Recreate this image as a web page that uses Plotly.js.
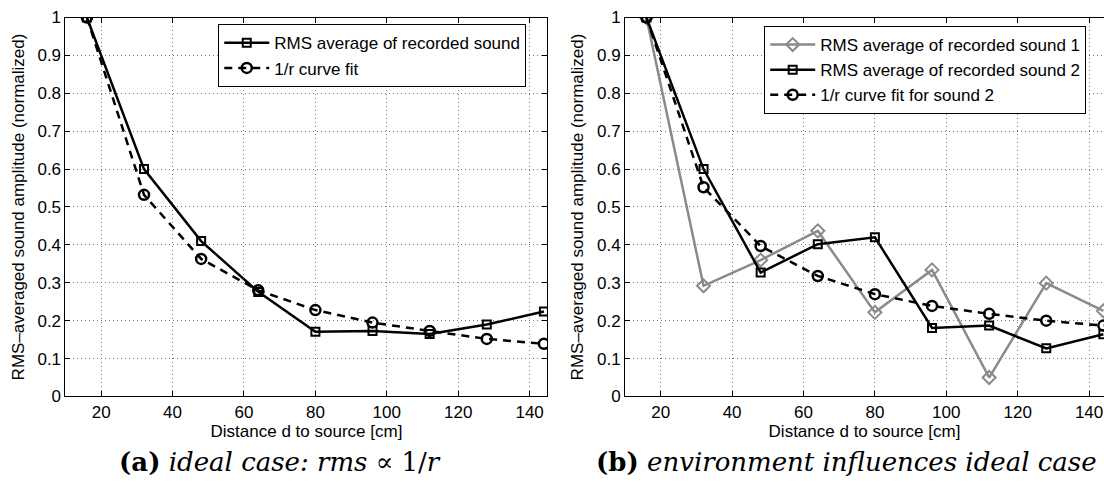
<!DOCTYPE html>
<html><head><meta charset="utf-8">
<script src="https://cdn.plot.ly/plotly-3.0.1.min.js"></script>
<style>html,body{margin:0;padding:0;overflow:hidden;background:#fff}</style>
</head><body><div id="chart" style="width:1104px;height:489px"></div>
<script>
// Distance to source [cm]
const distance = [16, 32, 48, 64, 80, 96, 112, 128, 144];
// (a) ideal case
const idealRms = [1.0, 0.600, 0.410, 0.276, 0.171, 0.173, 0.165, 0.190, 0.224];
const idealFit = [1.0, 0.532, 0.363, 0.280, 0.228, 0.195, 0.173, 0.152, 0.139];
// (b) environment influences
const envSound1 = [1.0, 0.292, 0.360, 0.437, 0.222, 0.334, 0.050, 0.299, 0.226];
const envSound2 = [1.0, 0.600, 0.327, 0.402, 0.420, 0.181, 0.187, 0.127, 0.164];
const envFit2   = [1.0, 0.552, 0.397, 0.318, 0.270, 0.239, 0.218, 0.200, 0.187];
// ticks
const xTicks = [20, 40, 60, 80, 100, 120, 140];
const yTicks = [0, 0.1, 0.2, 0.3, 0.4, 0.5, 0.6, 0.7, 0.8, 0.9, 1];
const yTickText = ['0', '0.1', '0.2', '0.3', '0.4', '0.5', '0.6', '0.7', '0.8', '0.9', '1'];

const SANS = 'Liberation Sans, Arial, Helvetica, sans-serif';
const SERIF = 'DejaVu Serif, Liberation Serif, serif';
const GRAY = '#8a8a8a';

function solid(x, y, name, color, symbol, size, xa, ya, lg) {
  return {x, y, name, type: 'scatter', mode: 'lines+markers', xaxis: xa, yaxis: ya, legend: lg,
    line: {color, width: 2.5},
    marker: {symbol, size, color, line: {color, width: 2}},
    cliponaxis: true, hoverinfo: 'skip'};
}
function dashed(x, y, name, xa, ya, lg) {
  return {x, y, name, type: 'scatter', mode: 'lines+markers', xaxis: xa, yaxis: ya, legend: lg,
    line: {color: '#000', width: 2.5, dash: '8px,6px'},
    marker: {symbol: 'circle-open', size: 10, color: '#000', line: {color: '#000', width: 2.5}},
    cliponaxis: true, hoverinfo: 'skip'};
}

const traces = [
  solid(distance, idealRms, 'RMS average of recorded sound', '#000', 'square-open', 8, 'x', 'y', 'legend'),
  dashed(distance, idealFit, '1/r curve fit', 'x', 'y', 'legend'),
  solid(distance, envSound1, 'RMS average of recorded sound 1', GRAY, 'diamond-open', 10, 'x2', 'y2', 'legend2'),
  solid(distance, envSound2, 'RMS average of recorded sound 2', '#000', 'square-open', 8, 'x2', 'y2', 'legend2'),
  dashed(distance, envFit2, '1/r curve fit for sound 2', 'x2', 'y2', 'legend2')
];

const axBase = {
  showline: true, linecolor: '#000', linewidth: 1,
  ticks: 'inside', ticklen: 5, tickcolor: '#000', tickwidth: 1,
  showgrid: true, gridcolor: '#777', griddash: '1px,3px', gridwidth: 1,
  zeroline: false, fixedrange: true, automargin: false, ticklabeloverflow: 'allow',
  tickfont: {family: SANS, size: 17, color: '#000'}
};
const xTitle = {text: 'Distance d to source [cm]', font: {family: SANS, size: 17, color: '#000'}, standoff: 2};
const yTitle = {text: 'RMS–averaged sound amplitude (normalized)', font: {family: SANS, size: 17, color: '#000'}, standoff: 8};

const legendBase = {
  xref: 'paper', yref: 'paper', xanchor: 'left', yanchor: 'top',
  bgcolor: '#fff', bordercolor: '#000', borderwidth: 1,
  font: {family: SANS, size: 17, color: '#000'},
  itemwidth: 45, tracegroupgap: 0, traceorder: 'normal'
};

const layout = {
  width: 1104, height: 489,
  margin: {l: 0, r: 0, t: 0, b: 0},
  paper_bgcolor: '#fff', plot_bgcolor: '#fff',
  showlegend: true,
  xaxis: Object.assign({}, axBase, {domain: [0.0593, 0.4959], range: [10, 145], tickvals: xTicks, mirror: 'ticks', anchor: 'y', title: xTitle}),
  yaxis: Object.assign({}, axBase, {domain: [0.1892, 0.9642], range: [0, 1], tickvals: yTicks, ticktext: yTickText, mirror: 'ticks', anchor: 'x', title: yTitle}),
  xaxis2: Object.assign({}, axBase, {domain: [625 / 1104, 1], range: [10, 10 + (1104 - 625) / 3.57], tickvals: xTicks, mirror: 'ticks', anchor: 'y2', title: xTitle}),
  yaxis2: Object.assign({}, axBase, {domain: [0.1892, 0.9642], range: [0, 1], tickvals: yTicks, ticktext: yTickText, mirror: false, anchor: 'x2', title: yTitle}),
  legend: Object.assign({}, legendBase, {x: 0.1977, y: 0.9503}),
  legend2: Object.assign({}, legendBase, {x: 0.6922, y: 0.9468}),
  annotations: [
    {xref: 'paper', yref: 'paper', x: 0.2532, y: 1 - 462 / 489, xanchor: 'center', yanchor: 'middle', showarrow: false,
     text: '<b>(a)</b> <i>ideal case: rms</i> ∝ 1/<i>r</i>', font: {family: SERIF, size: 26, color: '#000'}},
    {xref: 'paper', yref: 'paper', x: 0.7668, y: 1 - 462 / 489, xanchor: 'center', yanchor: 'middle', showarrow: false,
     text: '<b>(b)</b> <i>environment influences ideal case</i>', font: {family: SERIF, size: 26, color: '#000'}}
  ]
};

Plotly.newPlot('chart', traces, layout, {staticPlot: true, displayModeBar: false});
</script>
</body></html>
